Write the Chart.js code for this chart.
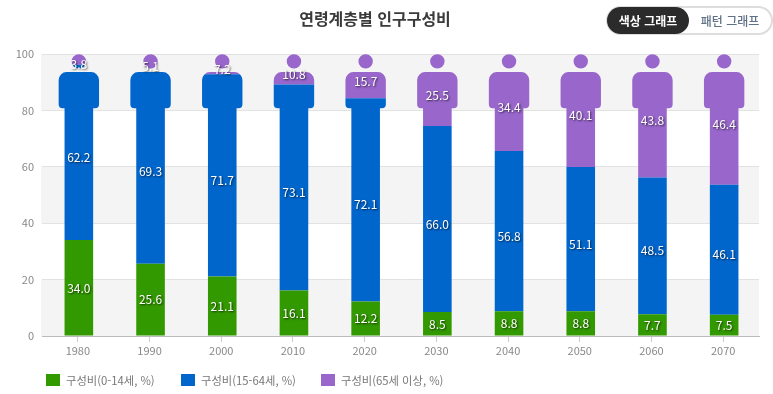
<!DOCTYPE html>
<html lang="ko">
<head>
<meta charset="utf-8">
<title>연령계층별 인구구성비</title>
<script src="https://cdn.jsdelivr.net/npm/chart.js@4"></script>
<style>
  html, body { margin: 0; padding: 0; background: #fff; overflow: hidden; }
  body { width: 773px; height: 394px; position: relative; font-family: "Noto Sans CJK KR", "Noto Sans", sans-serif; }
  #wrap { position: absolute; left: 0; top: 0; width: 773px; height: 394px; }
  h1 { position: absolute; left: 0; top: 6px; width: 750px; margin: 0; text-align: center; font-size: 16px; line-height: 24px; font-weight: 700; color: #3a3a3a; }
  .toggle { position: absolute; left: 606px; top: 6px; width: 163px; height: 25px; border: 2px solid #ddd; border-radius: 15px; background: #fff; font-size: 12px; line-height: 25px; }
  .toggle span { position: absolute; top: 0; text-align: center; }
  .toggle .on { left: -1px; top: -1px; width: 82px; height: 27px; line-height: 27px; border-radius: 14px; background: #2b2b2b; color: #fff; font-weight: 700; }
  .toggle .off { left: 81px; width: 82px; color: #5f7186; font-weight: 500; }
  .key { position: absolute; top: 372px; height: 16px; font-size: 11.3px; line-height: 16px; color: #777; white-space: nowrap; padding-left: 20px; }
  .key i { position: absolute; left: 0; top: 2px; width: 14px; height: 12px; }
</style>
</head>
<body>
<div id="wrap"><canvas id="c" width="773" height="394"></canvas></div>
<h1>연령계층별 인구구성비</h1>
<div class="toggle"><span class="on">색상 그래프</span><span class="off">패턴 그래프</span></div>
<div id="legend"></div>
<script>
const years = ["1980", "1990", "2000", "2010", "2020", "2030", "2040", "2050", "2060", "2070"];
const young = [34.0, 25.6, 21.1, 16.1, 12.2, 8.5, 8.8, 8.8, 7.7, 7.5];
const working = [62.2, 69.3, 71.7, 73.1, 72.1, 66.0, 56.8, 51.1, 48.5, 46.1];
const elderly = [3.8, 5.1, 7.2, 10.8, 15.7, 25.5, 34.4, 40.1, 43.8, 46.4];
const yTicks = [0, 20, 40, 60, 80, 100];

// person pictogram the stacks get clipped to
function personPath(chart) {
  const { ctx, scales: { x, y } } = chart;
  const top = y.getPixelForValue(100);
  const shoulderTop = y.getPixelForValue(93.6);
  const shoulderBottom = y.getPixelForValue(80.8);
  const base = y.getPixelForValue(0);
  ctx.beginPath();
  years.forEach((_, i) => {
    const cx = x.getPixelForValue(i) + 1;
    ctx.moveTo(cx + 7.2, top + 7.4);
    ctx.arc(cx, top + 7.4, 7.2, 0, Math.PI * 2);
    ctx.roundRect(cx - 20.2, shoulderTop, 40.4, shoulderBottom - shoulderTop, [8, 8, 4, 4]);
    ctx.rect(cx - 14.3, shoulderBottom - 2, 28.6, base - shoulderBottom + 2);
  });
}

const personClip = {
  id: "personClip",
  beforeDatasetsDraw(chart) {
    chart.ctx.save();
    personPath(chart);
    chart.ctx.clip();
  },
  afterDatasetsDraw(chart) {
    chart.ctx.restore();
  },
};

const bands = {
  id: "bands",
  beforeDraw(chart) {
    const { ctx, chartArea, scales: { y } } = chart;
    ctx.save();
    ctx.fillStyle = "#f4f4f4";
    for (let v = 0; v < 100; v += 40) {
      const t = y.getPixelForValue(v + 20);
      ctx.fillRect(chartArea.left - 1, t, chartArea.width + 1, y.getPixelForValue(v) - t);
    }
    ctx.restore();
  },
};

const barLabels = {
  id: "barLabels",
  afterDatasetsDraw(chart) {
    const { ctx, scales: { x, y } } = chart;
    ctx.save();
    ctx.font = '12px "Noto Sans CJK KR"';
    ctx.textAlign = "center";
    ctx.textBaseline = "middle";
    ctx.fillStyle = "#fff";
    ctx.shadowColor = "rgba(0,0,0,0.7)";
    ctx.shadowBlur = 2;
    ctx.shadowOffsetX = 1;
    ctx.shadowOffsetY = 1;
    const sums = years.map(() => 0);
    chart.data.datasets.forEach((ds, d) => {
      ds.data.forEach((v, i) => {
        const mid = y.getPixelForValue(sums[i] + v / 2) + (d ? 5 : 0);
        sums[i] += v;
        ctx.fillText(v.toFixed(1), x.getPixelForValue(i) + 1, mid);
      });
    });
    ctx.restore();
  },
};

const chart = new Chart(document.getElementById("c"), {
  type: "bar",
  data: {
    labels: years,
    datasets: [
      { label: "구성비(0-14세, %)", data: young, backgroundColor: "#339900" },
      { label: "구성비(15-64세, %)", data: working, backgroundColor: "#0066cc" },
      { label: "구성비(65세 이상, %)", data: elderly, backgroundColor: "#9966cc" },
    ],
  },
  options: {
    responsive: false,
    animation: false,
    layout: { padding: { top: 54, right: 14, bottom: 33, left: 0 } },
    datasets: { bar: { categoryPercentage: 1, barPercentage: 0.62 } },
    plugins: {
      tooltip: { enabled: false },
      legend: { display: false },
    },
    scales: {
      x: {
        stacked: true,
        border: { color: "#bbb" },
        grid: { drawOnChartArea: false, tickLength: 6, tickColor: "#ccc", offset: false },
        ticks: { color: "#888", padding: 2, maxRotation: 0, font: { family: '"Noto Sans CJK KR"', size: 11 } },
        afterFit(s) { s.height = 25; },
      },
      y: {
        stacked: true,
        min: 0,
        max: 100,
        afterBuildTicks(s) { s.ticks = yTicks.map((value) => ({ value })); },
        border: { display: false },
        grid: { color: "#e2e2e2", drawTicks: false },
        ticks: { color: "#888", padding: 8, font: { family: '"Noto Sans CJK KR"', size: 11 } },
        afterFit(s) { s.width = 42; },
      },
    },
  },
  plugins: [bands, personClip, barLabels],
});

// legend sits at fixed spots under the axis
const legendLeft = [46, 181, 321];
document.getElementById("legend").innerHTML = chart.data.datasets
  .map((ds, i) => `<div class="key" style="left:${legendLeft[i]}px"><i style="background:${ds.backgroundColor}"></i>${ds.label}</div>`)
  .join("");
</script>
</body>
</html>
